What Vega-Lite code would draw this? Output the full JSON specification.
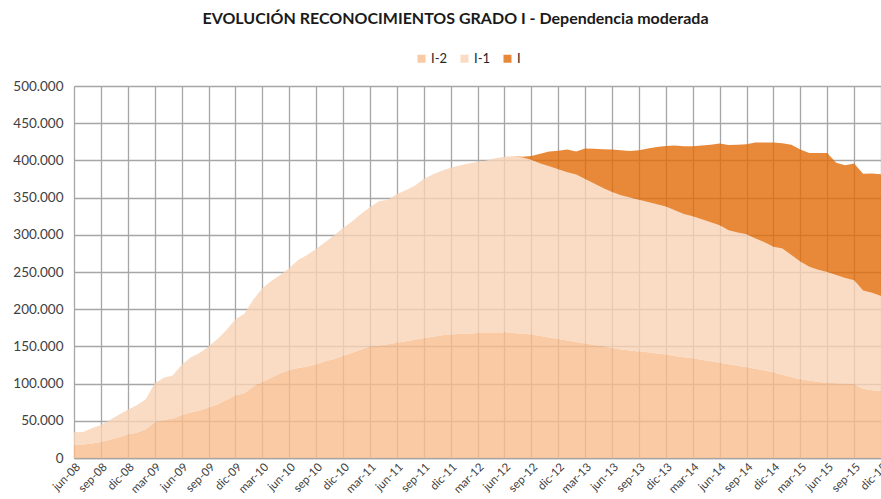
{
  "$schema": "https://vega.github.io/schema/vega-lite/v6.json",
  "width": 807,
  "height": 372,
  "autosize": "none",
  "padding": {"left": 74, "top": 86, "right": 0, "bottom": 41},
  "title": {
    "text": "EVOLUCIÓN RECONOCIMIENTOS GRADO I - Dependencia moderada",
    "anchor": "middle",
    "font": "Lato",
    "fontSize": 16,
    "fontWeight": "bold",
    "color": "#1a1a1a",
    "dx": -22,
    "offset": 25
  },
  "config": {
    "locale": {
      "number": {"decimal": ",", "thousands": ".", "grouping": [3], "currency": ["", " €"]}
    },
    "view": {"stroke": null},
    "font": "Lato"
  },
  "data": {
    "values": [
      {"mes": "jun-08", "I-2": 17000, "I-1": 17500},
      {"mes": "jul-08", "I-2": 18000, "I-1": 17000},
      {"mes": "ago-08", "I-2": 19500, "I-1": 20500},
      {"mes": "sep-08", "I-2": 21500, "I-1": 23000},
      {"mes": "oct-08", "I-2": 24500, "I-1": 26500},
      {"mes": "nov-08", "I-2": 28000, "I-1": 30000},
      {"mes": "dic-08", "I-2": 31500, "I-1": 33500},
      {"mes": "ene-09", "I-2": 34000, "I-1": 37000},
      {"mes": "feb-09", "I-2": 38500, "I-1": 40500},
      {"mes": "mar-09", "I-2": 48000, "I-1": 52000},
      {"mes": "abr-09", "I-2": 51000, "I-1": 57000},
      {"mes": "may-09", "I-2": 53000, "I-1": 58000},
      {"mes": "jun-09", "I-2": 57500, "I-1": 67500},
      {"mes": "jul-09", "I-2": 61000, "I-1": 74000},
      {"mes": "ago-09", "I-2": 64000, "I-1": 77000},
      {"mes": "sep-09", "I-2": 68000, "I-1": 82000},
      {"mes": "oct-09", "I-2": 72000, "I-1": 88000},
      {"mes": "nov-09", "I-2": 78000, "I-1": 94000},
      {"mes": "dic-09", "I-2": 84000, "I-1": 102000},
      {"mes": "ene-10", "I-2": 87000, "I-1": 107000},
      {"mes": "feb-10", "I-2": 96000, "I-1": 117000},
      {"mes": "mar-10", "I-2": 102000, "I-1": 126000},
      {"mes": "abr-10", "I-2": 108000, "I-1": 130000},
      {"mes": "may-10", "I-2": 114000, "I-1": 132000},
      {"mes": "jun-10", "I-2": 118000, "I-1": 137000},
      {"mes": "jul-10", "I-2": 121000, "I-1": 145000},
      {"mes": "ago-10", "I-2": 123000, "I-1": 150000},
      {"mes": "sep-10", "I-2": 126000, "I-1": 155000},
      {"mes": "oct-10", "I-2": 130000, "I-1": 160000},
      {"mes": "nov-10", "I-2": 133000, "I-1": 166000},
      {"mes": "dic-10", "I-2": 137000, "I-1": 172000},
      {"mes": "ene-11", "I-2": 141000, "I-1": 177000},
      {"mes": "feb-11", "I-2": 146000, "I-1": 182000},
      {"mes": "mar-11", "I-2": 150000, "I-1": 187000},
      {"mes": "abr-11", "I-2": 151000, "I-1": 194000},
      {"mes": "may-11", "I-2": 153000, "I-1": 194000},
      {"mes": "jun-11", "I-2": 155000, "I-1": 200000},
      {"mes": "jul-11", "I-2": 157000, "I-1": 203000},
      {"mes": "ago-11", "I-2": 159000, "I-1": 207000},
      {"mes": "sep-11", "I-2": 161000, "I-1": 214000},
      {"mes": "oct-11", "I-2": 163000, "I-1": 218000},
      {"mes": "nov-11", "I-2": 165000, "I-1": 221000},
      {"mes": "dic-11", "I-2": 166000, "I-1": 224000},
      {"mes": "ene-12", "I-2": 167000, "I-1": 226000},
      {"mes": "feb-12", "I-2": 167000, "I-1": 229000},
      {"mes": "mar-12", "I-2": 168000, "I-1": 230000},
      {"mes": "abr-12", "I-2": 168000, "I-1": 232000},
      {"mes": "may-12", "I-2": 168000, "I-1": 235000},
      {"mes": "jun-12", "I-2": 169000, "I-1": 236000},
      {"mes": "jul-12", "I-2": 168000, "I-1": 238000, "I": 0},
      {"mes": "ago-12", "I-2": 167000, "I-1": 237000, "I": 1000},
      {"mes": "sep-12", "I-2": 166000, "I-1": 235000, "I": 5000},
      {"mes": "oct-12", "I-2": 164000, "I-1": 232000, "I": 13000},
      {"mes": "nov-12", "I-2": 162000, "I-1": 230000, "I": 20000},
      {"mes": "dic-12", "I-2": 160000, "I-1": 228000, "I": 25000},
      {"mes": "ene-13", "I-2": 158000, "I-1": 226000, "I": 30500},
      {"mes": "feb-13", "I-2": 156000, "I-1": 225000, "I": 31000},
      {"mes": "mar-13", "I-2": 154000, "I-1": 221000, "I": 41000},
      {"mes": "abr-13", "I-2": 152000, "I-1": 217000, "I": 46500},
      {"mes": "may-13", "I-2": 150000, "I-1": 213000, "I": 52000},
      {"mes": "jun-13", "I-2": 148000, "I-1": 209500, "I": 57000},
      {"mes": "jul-13", "I-2": 146000, "I-1": 207000, "I": 60500},
      {"mes": "ago-13", "I-2": 144500, "I-1": 205500, "I": 62600},
      {"mes": "sep-13", "I-2": 143000, "I-1": 204000, "I": 66600},
      {"mes": "oct-13", "I-2": 142000, "I-1": 202000, "I": 72000},
      {"mes": "nov-13", "I-2": 140500, "I-1": 200500, "I": 77000},
      {"mes": "dic-13", "I-2": 139000, "I-1": 199000, "I": 81400},
      {"mes": "ene-14", "I-2": 137000, "I-1": 196000, "I": 87000},
      {"mes": "feb-14", "I-2": 135500, "I-1": 192500, "I": 91000},
      {"mes": "mar-14", "I-2": 134000, "I-1": 191000, "I": 94000},
      {"mes": "abr-14", "I-2": 132000, "I-1": 189000, "I": 99000},
      {"mes": "may-14", "I-2": 130000, "I-1": 187000, "I": 104000},
      {"mes": "jun-14", "I-2": 128000, "I-1": 185000, "I": 109600},
      {"mes": "jul-14", "I-2": 126000, "I-1": 180000, "I": 114700},
      {"mes": "ago-14", "I-2": 124000, "I-1": 179000, "I": 118000},
      {"mes": "sep-14", "I-2": 122000, "I-1": 178700, "I": 120900},
      {"mes": "oct-14", "I-2": 120000, "I-1": 175000, "I": 129000},
      {"mes": "nov-14", "I-2": 117500, "I-1": 172500, "I": 134000},
      {"mes": "dic-14", "I-2": 115000, "I-1": 169000, "I": 140000},
      {"mes": "ene-15", "I-2": 112000, "I-1": 169500, "I": 141500},
      {"mes": "feb-15", "I-2": 109000, "I-1": 164000, "I": 148000},
      {"mes": "mar-15", "I-2": 106000, "I-1": 158000, "I": 150500},
      {"mes": "abr-15", "I-2": 104000, "I-1": 153000, "I": 153000},
      {"mes": "may-15", "I-2": 102000, "I-1": 151000, "I": 157000},
      {"mes": "jun-15", "I-2": 101000, "I-1": 149000, "I": 160000},
      {"mes": "jul-15", "I-2": 100500, "I-1": 145500, "I": 151000},
      {"mes": "ago-15", "I-2": 100000, "I-1": 142000, "I": 151500},
      {"mes": "sep-15", "I-2": 99000, "I-1": 140000, "I": 156700},
      {"mes": "oct-15", "I-2": 93000, "I-1": 132000, "I": 157000},
      {"mes": "nov-15", "I-2": 91000, "I-1": 131000, "I": 160500},
      {"mes": "dic-15", "I-2": 90000, "I-1": 127700, "I": 163800}
    ]
  },
  "transform": [
    {"fold": ["I-2", "I-1", "I"], "as": ["serie", "valor"]},
    {"filter": {"field": "valor", "valid": true}}
  ],
  "mark": {"type": "area", "opacity": 0.8, "interpolate": "linear"},
  "encoding": {
    "x": {
      "field": "mes",
      "type": "ordinal",
      "sort": null,
      "scale": {"type": "point", "padding": 0},
      "axis": {
        "title": null,
        "values": ["jun-08","sep-08","dic-08","mar-09","jun-09","sep-09","dic-09","mar-10","jun-10","sep-10","dic-10","mar-11","jun-11","sep-11","dic-11","mar-12","jun-12","sep-12","dic-12","mar-13","jun-13","sep-13","dic-13","mar-14","jun-14","sep-14","dic-14","mar-15","jun-15","sep-15","dic-15"],
        "labelAngle": -45,
        "labelFontSize": 11.5,
        "labelColor": "#404040",
        "labelPadding": 3,
        "labelOverlap": false,
        "ticks": false,
        "grid": true,
        "gridColor": "#a6a6a6",
        "gridWidth": 1.3,
        "domain": true,
        "domainColor": "#a6a6a6",
        "domainWidth": 1.3
      }
    },
    "y": {
      "field": "valor",
      "type": "quantitative",
      "stack": "zero",
      "scale": {"domain": [0, 500000], "nice": false},
      "axis": {
        "title": null,
        "values": [0, 50000, 100000, 150000, 200000, 250000, 300000, 350000, 400000, 450000, 500000],
        "format": ",d",
        "labelFontSize": 13.5,
        "labelColor": "#404040",
        "labelPadding": 11,
        "ticks": false,
        "domain": false,
        "grid": true,
        "gridColor": "#a6a6a6",
        "gridWidth": 1.3
      }
    },
    "color": {
      "field": "serie",
      "type": "nominal",
      "scale": {"domain": ["I-2", "I-1", "I"], "range": ["#f8bd8d", "#f9d2b4", "#e26b09"]},
      "legend": {
        "title": null,
        "orient": "none",
        "direction": "horizontal",
        "legendX": 341,
        "legendY": -34,
        "symbolType": "square",
        "symbolSize": 64,
        "symbolOpacity": 0.8,
        "symbolStrokeWidth": 0,
        "labelFontSize": 13,
        "labelColor": "#262626",
        "labelOffset": 3,
        "columnPadding": 10
      }
    },
    "order": {"field": "serie", "sort": "descending"}
  }
}
